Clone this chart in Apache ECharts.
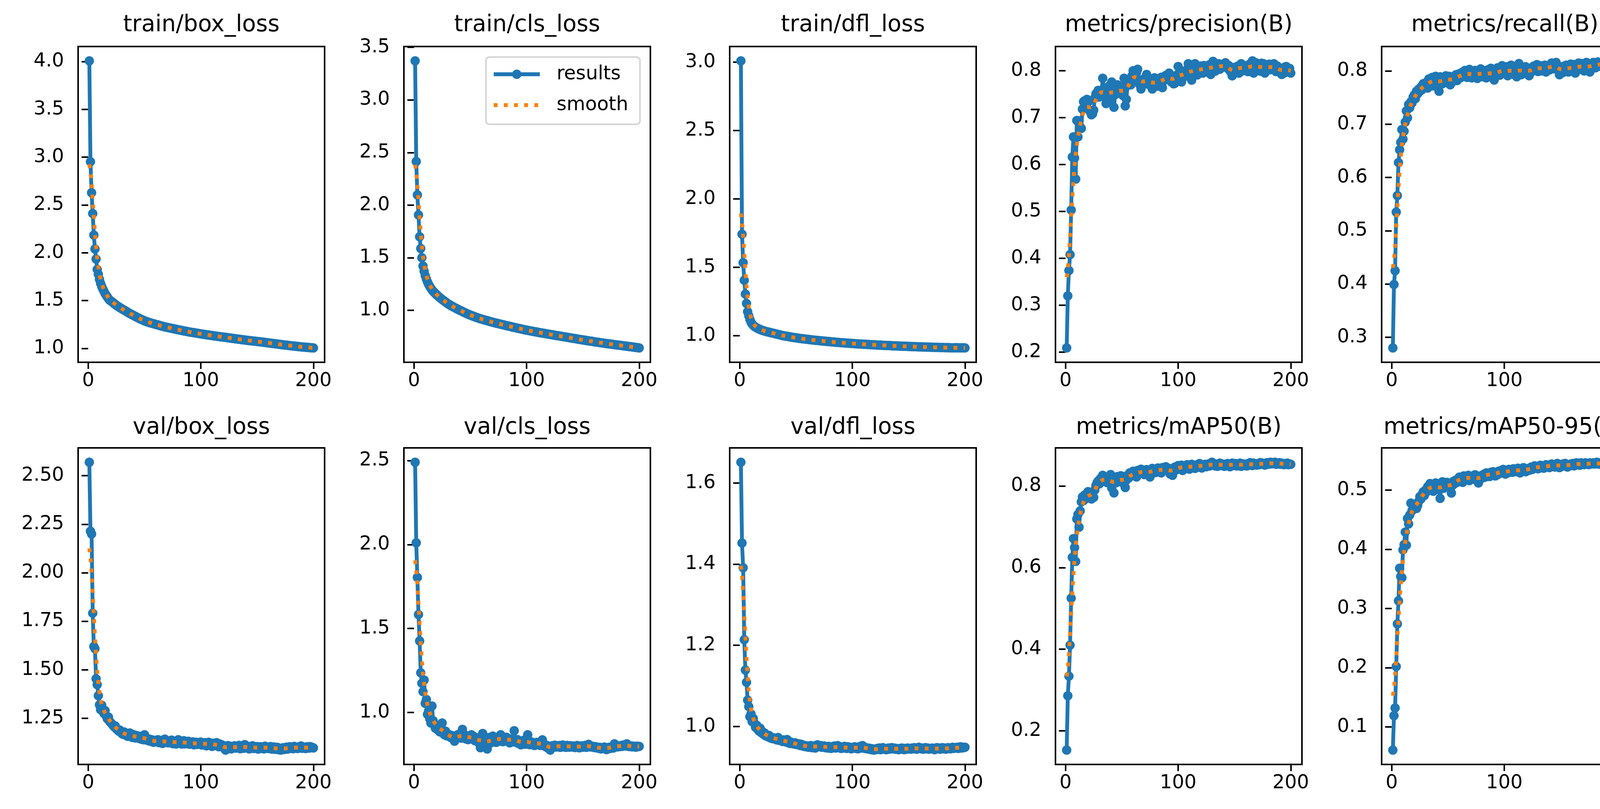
<!DOCTYPE html>
<html>
<head>
<meta charset="utf-8">
<title>results</title>
<script src="https://cdn.jsdelivr.net/npm/echarts@6/dist/echarts.min.js"></script>
<style>
	html, body { margin: 0; padding: 0; background: #fff; }
	#main { width: 4230px; height: 2070px; }
</style>
</head>
<body>
<div id="main"></div>
<script>
// 子图标题
const titles = [
	"train/box_loss", "train/cls_loss", "train/dfl_loss", "metrics/precision(B)", "metrics/recall(B)",
	"val/box_loss", "val/cls_loss", "val/dfl_loss", "metrics/mAP50(B)", "metrics/mAP50-95(B)",
];

// epoch 1..200
const epochs = Array.from({ length: 200 }, (_, i) => i + 1);
const xTicks = [0, 100, 200];

// y 轴刻度
const yTicks = [
	[1.0, 1.5, 2.0, 2.5, 3.0, 3.5, 4.0],
	[1.0, 1.5, 2.0, 2.5, 3.0, 3.5],
	[1.0, 1.5, 2.0, 2.5, 3.0],
	[0.2, 0.3, 0.4, 0.5, 0.6, 0.7, 0.8],
	[0.3, 0.4, 0.5, 0.6, 0.7, 0.8],
	[1.25, 1.5, 1.75, 2.0, 2.25, 2.5],
	[1.0, 1.5, 2.0, 2.5],
	[1.0, 1.2, 1.4, 1.6],
	[0.2, 0.4, 0.6, 0.8],
	[0.1, 0.2, 0.3, 0.4, 0.5],
];
const yDigits = [1, 1, 1, 1, 1, 2, 1, 1, 1, 1];

const trainBox = [
	4.007, 2.952, 2.628, 2.410, 2.185, 2.040, 1.935, 1.826, 1.775, 1.722,
	1.680, 1.648, 1.621, 1.598, 1.573, 1.556, 1.537, 1.520, 1.506, 1.497,
	1.489, 1.479, 1.469, 1.460, 1.451, 1.443, 1.435, 1.428, 1.421, 1.414,
	1.407, 1.400, 1.393, 1.386, 1.379, 1.372, 1.365, 1.359, 1.352, 1.346,
	1.340, 1.334, 1.328, 1.322, 1.316, 1.310, 1.304, 1.299, 1.294, 1.288,
	1.284, 1.280, 1.276, 1.272, 1.268, 1.265, 1.261, 1.258, 1.255, 1.251,
	1.248, 1.245, 1.242, 1.238, 1.235, 1.232, 1.229, 1.226, 1.223, 1.221,
	1.218, 1.215, 1.213, 1.210, 1.208, 1.205, 1.203, 1.200, 1.198, 1.195,
	1.193, 1.190, 1.188, 1.186, 1.183, 1.181, 1.179, 1.177, 1.174, 1.172,
	1.170, 1.168, 1.166, 1.164, 1.162, 1.160, 1.158, 1.156, 1.154, 1.152,
	1.150, 1.148, 1.147, 1.145, 1.143, 1.141, 1.140, 1.138, 1.136, 1.135,
	1.133, 1.131, 1.130, 1.128, 1.126, 1.125, 1.123, 1.121, 1.120, 1.118,
	1.116, 1.115, 1.113, 1.112, 1.110, 1.108, 1.107, 1.105, 1.104, 1.102,
	1.100, 1.099, 1.097, 1.096, 1.094, 1.093, 1.091, 1.090, 1.088, 1.087,
	1.085, 1.084, 1.082, 1.081, 1.080, 1.078, 1.077, 1.076, 1.074, 1.073,
	1.071, 1.070, 1.068, 1.067, 1.065, 1.064, 1.062, 1.061, 1.059, 1.058,
	1.056, 1.055, 1.053, 1.052, 1.050, 1.049, 1.047, 1.046, 1.044, 1.043,
	1.041, 1.040, 1.038, 1.037, 1.035, 1.034, 1.033, 1.031, 1.030, 1.028,
	1.027, 1.025, 1.024, 1.023, 1.021, 1.020, 1.019, 1.017, 1.016, 1.015,
	1.014, 1.013, 1.012, 1.011, 1.010, 1.009, 1.008, 1.007, 1.006, 1.005,
];

const trainCls = [
	3.371, 2.415, 2.097, 1.907, 1.700, 1.588, 1.500, 1.421, 1.372, 1.330,
	1.298, 1.270, 1.247, 1.228, 1.210, 1.195, 1.182, 1.170, 1.160, 1.150,
	1.140, 1.130, 1.121, 1.112, 1.104, 1.096, 1.088, 1.080, 1.072, 1.064,
	1.057, 1.051, 1.045, 1.039, 1.033, 1.027, 1.021, 1.016, 1.010, 1.005,
	1.000, 0.995, 0.990, 0.984, 0.979, 0.974, 0.969, 0.964, 0.960, 0.955,
	0.951, 0.947, 0.943, 0.939, 0.935, 0.931, 0.928, 0.924, 0.920, 0.917,
	0.914, 0.911, 0.908, 0.905, 0.902, 0.899, 0.896, 0.893, 0.890, 0.887,
	0.884, 0.882, 0.879, 0.876, 0.874, 0.871, 0.869, 0.866, 0.864, 0.861,
	0.858, 0.856, 0.853, 0.851, 0.848, 0.846, 0.843, 0.841, 0.838, 0.836,
	0.833, 0.831, 0.829, 0.826, 0.824, 0.821, 0.819, 0.817, 0.814, 0.812,
	0.810, 0.808, 0.806, 0.804, 0.802, 0.800, 0.798, 0.796, 0.794, 0.792,
	0.790, 0.788, 0.786, 0.784, 0.782, 0.781, 0.779, 0.777, 0.775, 0.773,
	0.771, 0.769, 0.768, 0.766, 0.764, 0.762, 0.760, 0.759, 0.757, 0.755,
	0.753, 0.751, 0.750, 0.748, 0.746, 0.744, 0.742, 0.741, 0.739, 0.737,
	0.735, 0.733, 0.732, 0.730, 0.728, 0.726, 0.724, 0.723, 0.721, 0.719,
	0.717, 0.716, 0.714, 0.712, 0.711, 0.709, 0.707, 0.706, 0.704, 0.702,
	0.700, 0.699, 0.697, 0.696, 0.694, 0.692, 0.691, 0.689, 0.688, 0.686,
	0.685, 0.683, 0.682, 0.680, 0.679, 0.678, 0.676, 0.675, 0.673, 0.672,
	0.670, 0.669, 0.668, 0.666, 0.665, 0.663, 0.662, 0.661, 0.659, 0.658,
	0.656, 0.655, 0.654, 0.652, 0.651, 0.649, 0.648, 0.647, 0.645, 0.643,
];

const trainDfl = [
	3.010, 1.742, 1.533, 1.405, 1.304, 1.235, 1.175, 1.145, 1.118, 1.098,
	1.085, 1.075, 1.068, 1.062, 1.057, 1.053, 1.049, 1.045, 1.042, 1.039,
	1.036, 1.034, 1.031, 1.029, 1.027, 1.025, 1.023, 1.021, 1.019, 1.017,
	1.015, 1.013, 1.011, 1.009, 1.007, 1.005, 1.003, 1.001, 0.999, 0.998,
	0.996, 0.995, 0.993, 0.992, 0.990, 0.989, 0.988, 0.986, 0.985, 0.984,
	0.983, 0.981, 0.980, 0.979, 0.978, 0.977, 0.976, 0.975, 0.974, 0.973,
	0.972, 0.971, 0.970, 0.969, 0.968, 0.967, 0.966, 0.966, 0.965, 0.964,
	0.963, 0.962, 0.961, 0.961, 0.960, 0.959, 0.958, 0.957, 0.957, 0.956,
	0.955, 0.954, 0.954, 0.953, 0.952, 0.951, 0.951, 0.950, 0.949, 0.949,
	0.948, 0.947, 0.947, 0.946, 0.945, 0.945, 0.944, 0.944, 0.943, 0.943,
	0.942, 0.941, 0.941, 0.940, 0.940, 0.939, 0.939, 0.938, 0.938, 0.937,
	0.937, 0.936, 0.936, 0.935, 0.935, 0.934, 0.934, 0.933, 0.933, 0.932,
	0.932, 0.931, 0.931, 0.931, 0.930, 0.930, 0.929, 0.929, 0.929, 0.928,
	0.928, 0.927, 0.927, 0.927, 0.926, 0.926, 0.925, 0.925, 0.925, 0.924,
	0.924, 0.924, 0.923, 0.923, 0.923, 0.922, 0.922, 0.922, 0.921, 0.921,
	0.921, 0.920, 0.920, 0.920, 0.919, 0.919, 0.919, 0.918, 0.918, 0.918,
	0.918, 0.917, 0.917, 0.917, 0.916, 0.916, 0.916, 0.916, 0.915, 0.915,
	0.915, 0.915, 0.914, 0.914, 0.914, 0.914, 0.913, 0.913, 0.913, 0.913,
	0.913, 0.912, 0.912, 0.912, 0.912, 0.912, 0.911, 0.911, 0.911, 0.911,
	0.912, 0.911, 0.912, 0.911, 0.911, 0.910, 0.911, 0.910, 0.911, 0.910,
];

const precision = [
	0.209, 0.320, 0.374, 0.408, 0.503, 0.616, 0.659, 0.614, 0.569, 0.694,
	0.659, 0.693, 0.680, 0.677, 0.718, 0.734, 0.736, 0.724, 0.739, 0.733,
	0.716, 0.712, 0.706, 0.708, 0.716, 0.742, 0.751, 0.747, 0.758, 0.744,
	0.751, 0.754, 0.784, 0.762, 0.744, 0.730, 0.759, 0.735, 0.768, 0.748,
	0.776, 0.763, 0.722, 0.749, 0.757, 0.770, 0.759, 0.752, 0.766, 0.757,
	0.747, 0.784, 0.725, 0.739, 0.768, 0.781, 0.774, 0.770, 0.789, 0.800,
	0.791, 0.783, 0.796, 0.803, 0.779, 0.770, 0.761, 0.771, 0.782, 0.776,
	0.772, 0.792, 0.786, 0.777, 0.769, 0.780, 0.761, 0.775, 0.785, 0.771,
	0.767, 0.779, 0.774, 0.781, 0.786, 0.764, 0.778, 0.788, 0.790, 0.782,
	0.787, 0.795, 0.786, 0.776, 0.780, 0.772, 0.773, 0.785, 0.791, 0.809,
	0.790, 0.798, 0.776, 0.785, 0.793, 0.788, 0.801, 0.797, 0.815, 0.790,
	0.803, 0.780, 0.797, 0.808, 0.815, 0.800, 0.791, 0.805, 0.798, 0.810,
	0.802, 0.795, 0.811, 0.806, 0.809, 0.797, 0.805, 0.813, 0.792, 0.812,
	0.820, 0.806, 0.799, 0.812, 0.808, 0.815, 0.803, 0.811, 0.807, 0.814,
	0.809, 0.817, 0.812, 0.805, 0.811, 0.800, 0.796, 0.789, 0.801, 0.807,
	0.799, 0.806, 0.810, 0.795, 0.812, 0.815, 0.804, 0.800, 0.809, 0.805,
	0.811, 0.798, 0.806, 0.815, 0.809, 0.821, 0.795, 0.813, 0.817, 0.806,
	0.803, 0.812, 0.799, 0.816, 0.808, 0.815, 0.795, 0.804, 0.811, 0.807,
	0.814, 0.802, 0.808, 0.805, 0.815, 0.809, 0.798, 0.810, 0.803, 0.806,
	0.799, 0.792, 0.801, 0.795, 0.808, 0.809, 0.800, 0.797, 0.805, 0.795,
];

const recall = [
	0.280, 0.399, 0.425, 0.535, 0.566, 0.628, 0.652, 0.666, 0.690, 0.672,
	0.687, 0.704, 0.725, 0.712, 0.737, 0.731, 0.742, 0.740, 0.751, 0.755,
	0.748, 0.762, 0.757, 0.766, 0.762, 0.770, 0.765, 0.776, 0.769, 0.774,
	0.779, 0.768, 0.785, 0.776, 0.781, 0.788, 0.772, 0.786, 0.790, 0.778,
	0.784, 0.762, 0.789, 0.781, 0.776, 0.787, 0.783, 0.791, 0.778, 0.785,
	0.790, 0.774, 0.783, 0.789, 0.781, 0.786, 0.793, 0.782, 0.788, 0.795,
	0.787, 0.792, 0.798, 0.790, 0.801, 0.794, 0.788, 0.797, 0.803, 0.792,
	0.787, 0.796, 0.789, 0.801, 0.794, 0.786, 0.798, 0.791, 0.804, 0.795,
	0.789, 0.799, 0.793, 0.787, 0.802, 0.796, 0.791, 0.805, 0.794, 0.797,
	0.783, 0.799, 0.793, 0.806, 0.798, 0.792, 0.801, 0.810, 0.796, 0.803,
	0.795, 0.808, 0.791, 0.802, 0.798, 0.811, 0.794, 0.800, 0.806, 0.797,
	0.789, 0.804, 0.814, 0.799, 0.793, 0.805, 0.800, 0.796, 0.808, 0.802,
	0.797, 0.791, 0.803, 0.798, 0.805, 0.809, 0.801, 0.806, 0.812, 0.799,
	0.805, 0.810, 0.800, 0.807, 0.803, 0.811, 0.798, 0.806, 0.809, 0.802,
	0.807, 0.815, 0.810, 0.804, 0.808, 0.816, 0.811, 0.803, 0.793, 0.800,
	0.806, 0.797, 0.809, 0.802, 0.811, 0.804, 0.798, 0.807, 0.813, 0.801,
	0.808, 0.812, 0.796, 0.805, 0.811, 0.815, 0.803, 0.809, 0.814, 0.806,
	0.800, 0.812, 0.816, 0.805, 0.810, 0.798, 0.813, 0.808, 0.816, 0.810,
	0.806, 0.813, 0.817, 0.809, 0.812, 0.815, 0.807, 0.819, 0.811, 0.814,
	0.809, 0.816, 0.812, 0.818, 0.813, 0.810, 0.816, 0.808, 0.814, 0.809,
];

const valBox = [
	2.569, 2.214, 2.200, 1.792, 1.620, 1.609, 1.454, 1.424, 1.367, 1.320,
	1.295, 1.318, 1.287, 1.276, 1.290, 1.262, 1.248, 1.257, 1.235, 1.228,
	1.222, 1.214, 1.207, 1.211, 1.196, 1.193, 1.185, 1.190, 1.178, 1.172,
	1.168, 1.180, 1.165, 1.171, 1.158, 1.163, 1.175, 1.160, 1.152, 1.167,
	1.158, 1.149, 1.162, 1.154, 1.147, 1.158, 1.143, 1.151, 1.140, 1.166,
	1.150, 1.138, 1.145, 1.134, 1.142, 1.131, 1.139, 1.127, 1.133, 1.137,
	1.129, 1.140, 1.125, 1.132, 1.136, 1.121, 1.130, 1.143, 1.128, 1.134,
	1.124, 1.131, 1.127, 1.138, 1.120, 1.129, 1.133, 1.118, 1.126, 1.140,
	1.122, 1.130, 1.118, 1.125, 1.135, 1.119, 1.127, 1.123, 1.132, 1.117,
	1.125, 1.120, 1.129, 1.114, 1.122, 1.127, 1.116, 1.123, 1.119, 1.128,
	1.113, 1.121, 1.117, 1.125, 1.109, 1.120, 1.127, 1.115, 1.118, 1.106,
	1.122, 1.116, 1.110, 1.125, 1.112, 1.104, 1.118, 1.108, 1.113, 1.101,
	1.095, 1.087, 1.103, 1.110, 1.098, 1.107, 1.093, 1.105, 1.100, 1.109,
	1.097, 1.104, 1.099, 1.111, 1.094, 1.102, 1.107, 1.096, 1.115, 1.101,
	1.098, 1.106, 1.093, 1.103, 1.099, 1.109, 1.095, 1.101, 1.097, 1.105,
	1.092, 1.100, 1.104, 1.096, 1.101, 1.093, 1.107, 1.098, 1.102, 1.095,
	1.099, 1.105, 1.092, 1.098, 1.103, 1.091, 1.096, 1.101, 1.089, 1.094,
	1.087, 1.093, 1.099, 1.090, 1.095, 1.102, 1.092, 1.098, 1.104, 1.096,
	1.100, 1.094, 1.106, 1.097, 1.101, 1.095, 1.103, 1.099, 1.108, 1.096,
	1.102, 1.098, 1.095, 1.104, 1.100, 1.097, 1.105, 1.099, 1.101, 1.098,
];

const valCls = [
	2.490, 2.010, 1.804, 1.583, 1.426, 1.236, 1.174, 1.124, 1.193, 1.054,
	1.077, 0.988, 1.010, 0.962, 0.937, 1.038, 0.951, 0.925, 0.906, 0.918,
	0.897, 0.905, 0.884, 0.910, 0.937, 0.876, 0.867, 0.889, 0.861, 0.872,
	0.858, 0.866, 0.849, 0.862, 0.841, 0.829, 0.853, 0.845, 0.868, 0.851,
	0.862, 0.847, 0.899, 0.872, 0.854, 0.843, 0.861, 0.838, 0.856, 0.849,
	0.867, 0.841, 0.858, 0.832, 0.851, 0.846, 0.822, 0.839, 0.790, 0.845,
	0.875, 0.836, 0.812, 0.828, 0.782, 0.829, 0.851, 0.818, 0.844, 0.859,
	0.831, 0.847, 0.822, 0.838, 0.852, 0.829, 0.867, 0.841, 0.826, 0.849,
	0.836, 0.852, 0.829, 0.845, 0.819, 0.838, 0.824, 0.842, 0.891, 0.833,
	0.821, 0.838, 0.815, 0.829, 0.807, 0.824, 0.818, 0.836, 0.811, 0.813,
	0.867, 0.820, 0.808, 0.825, 0.812, 0.819, 0.803, 0.816, 0.822, 0.809,
	0.815, 0.804, 0.826, 0.837, 0.811, 0.799, 0.806, 0.792, 0.801, 0.783,
	0.776, 0.791, 0.802, 0.797, 0.805, 0.794, 0.800, 0.796, 0.803, 0.792,
	0.799, 0.806, 0.795, 0.801, 0.792, 0.804, 0.798, 0.793, 0.802, 0.797,
	0.794, 0.800, 0.791, 0.798, 0.803, 0.795, 0.789, 0.798, 0.801, 0.793,
	0.797, 0.804, 0.792, 0.799, 0.810, 0.795, 0.801, 0.794, 0.798, 0.791,
	0.796, 0.789, 0.793, 0.786, 0.792, 0.783, 0.790, 0.785, 0.794, 0.788,
	0.779, 0.787, 0.792, 0.785, 0.791, 0.796, 0.788, 0.813, 0.794, 0.799,
	0.795, 0.801, 0.797, 0.803, 0.798, 0.806, 0.800, 0.804, 0.813, 0.798,
	0.802, 0.796, 0.800, 0.795, 0.799, 0.797, 0.793, 0.799, 0.796, 0.798,
];

const valDfl = [
	1.651, 1.452, 1.391, 1.214, 1.139, 1.109, 1.065, 1.049, 1.024, 1.031,
	1.012, 1.020, 1.008, 0.998, 1.003, 0.993, 0.989, 0.996, 0.985, 0.988,
	0.981, 0.984, 0.977, 0.979, 0.975, 0.978, 0.972, 0.974, 0.970, 0.972,
	0.969, 0.971, 0.967, 0.973, 0.966, 0.968, 0.965, 0.963, 0.967, 0.964,
	0.962, 0.968, 0.960, 0.963, 0.958, 0.961, 0.959, 0.957, 0.960, 0.956,
	0.958, 0.955, 0.957, 0.953, 0.956, 0.954, 0.951, 0.953, 0.950, 0.952,
	0.949, 0.951, 0.953, 0.948, 0.950, 0.952, 0.947, 0.951, 0.955, 0.952,
	0.950, 0.953, 0.949, 0.951, 0.952, 0.948, 0.950, 0.947, 0.951, 0.949,
	0.946, 0.950, 0.948, 0.952, 0.947, 0.949, 0.953, 0.948, 0.950, 0.946,
	0.949, 0.947, 0.951, 0.948, 0.946, 0.950, 0.947, 0.949, 0.945, 0.948,
	0.947, 0.950, 0.946, 0.949, 0.945, 0.948, 0.951, 0.947, 0.953, 0.949,
	0.946, 0.948, 0.945, 0.947, 0.944, 0.946, 0.943, 0.945, 0.942, 0.944,
	0.943, 0.946, 0.944, 0.947, 0.943, 0.945, 0.948, 0.944, 0.946, 0.943,
	0.945, 0.947, 0.944, 0.946, 0.948, 0.945, 0.947, 0.944, 0.946, 0.945,
	0.943, 0.946, 0.944, 0.947, 0.945, 0.943, 0.946, 0.944, 0.947, 0.945,
	0.946, 0.944, 0.947, 0.945, 0.948, 0.946, 0.944, 0.947, 0.949, 0.946,
	0.945, 0.947, 0.944, 0.946, 0.948, 0.945, 0.947, 0.944, 0.946, 0.945,
	0.947, 0.945, 0.943, 0.946, 0.948, 0.945, 0.947, 0.944, 0.946, 0.948,
	0.945, 0.947, 0.944, 0.946, 0.948, 0.946, 0.945, 0.947, 0.949, 0.946,
	0.948, 0.947, 0.949, 0.946, 0.948, 0.950, 0.947, 0.949, 0.948, 0.949,
];

const mAP50 = [
	0.153, 0.286, 0.334, 0.410, 0.525, 0.625, 0.671, 0.649, 0.615, 0.719,
	0.730, 0.699, 0.739, 0.761, 0.773, 0.764, 0.778, 0.769, 0.782, 0.786,
	0.771, 0.779, 0.768, 0.775, 0.772, 0.790, 0.801, 0.808, 0.812, 0.805,
	0.818, 0.814, 0.826, 0.811, 0.820, 0.815, 0.808, 0.822, 0.817, 0.828,
	0.795, 0.812, 0.783, 0.819, 0.808, 0.823, 0.816, 0.811, 0.825, 0.818,
	0.807, 0.821, 0.796, 0.814, 0.826, 0.819, 0.832, 0.824, 0.829, 0.836,
	0.827, 0.833, 0.822, 0.838, 0.829, 0.835, 0.841, 0.832, 0.837, 0.828,
	0.834, 0.840, 0.831, 0.836, 0.822, 0.838, 0.843, 0.835, 0.840, 0.833,
	0.839, 0.844, 0.836, 0.841, 0.832, 0.845, 0.838, 0.842, 0.847, 0.840,
	0.836, 0.843, 0.829, 0.839, 0.826, 0.841, 0.846, 0.839, 0.844, 0.850,
	0.842, 0.847, 0.851, 0.838, 0.845, 0.849, 0.843, 0.852, 0.846, 0.841,
	0.848, 0.853, 0.845, 0.850, 0.843, 0.847, 0.852, 0.846, 0.855, 0.849,
	0.844, 0.851, 0.848, 0.853, 0.847, 0.850, 0.854, 0.849, 0.852, 0.858,
	0.851, 0.855, 0.849, 0.853, 0.848, 0.852, 0.856, 0.850, 0.854, 0.851,
	0.848, 0.853, 0.850, 0.855, 0.851, 0.847, 0.853, 0.856, 0.850, 0.852,
	0.855, 0.849, 0.853, 0.851, 0.856, 0.848, 0.852, 0.854, 0.850, 0.853,
	0.849, 0.855, 0.851, 0.857, 0.853, 0.850, 0.856, 0.852, 0.854, 0.851,
	0.855, 0.852, 0.857, 0.853, 0.856, 0.854, 0.851, 0.855, 0.857, 0.853,
	0.856, 0.858, 0.854, 0.857, 0.855, 0.858, 0.853, 0.856, 0.854, 0.857,
	0.853, 0.856, 0.854, 0.852, 0.855, 0.853, 0.856, 0.852, 0.854, 0.853,
];

const mAP5095 = [
	0.061, 0.119, 0.132, 0.202, 0.274, 0.313, 0.368, 0.354, 0.352, 0.399,
	0.408, 0.429, 0.407, 0.452, 0.443, 0.458, 0.478, 0.465, 0.472, 0.476,
	0.470, 0.469, 0.474, 0.481, 0.489, 0.485, 0.493, 0.497, 0.491, 0.500,
	0.497, 0.506, 0.501, 0.511, 0.504, 0.509, 0.498, 0.507, 0.512, 0.505,
	0.509, 0.501, 0.486, 0.508, 0.514, 0.503, 0.511, 0.507, 0.513, 0.509,
	0.505, 0.512, 0.495, 0.508, 0.515, 0.511, 0.517, 0.513, 0.519, 0.522,
	0.516, 0.521, 0.513, 0.524, 0.518, 0.523, 0.519, 0.525, 0.516, 0.522,
	0.518, 0.524, 0.520, 0.526, 0.521, 0.517, 0.512, 0.523, 0.519, 0.525,
	0.521, 0.527, 0.522, 0.529, 0.524, 0.528, 0.523, 0.530, 0.526, 0.531,
	0.527, 0.524, 0.530, 0.526, 0.532, 0.528, 0.533, 0.529, 0.535, 0.531,
	0.527, 0.533, 0.529, 0.535, 0.531, 0.534, 0.530, 0.536, 0.532, 0.535,
	0.531, 0.537, 0.533, 0.529, 0.535, 0.532, 0.538, 0.534, 0.531, 0.536,
	0.533, 0.537, 0.534, 0.539, 0.535, 0.538, 0.541, 0.537, 0.540, 0.536,
	0.539, 0.542, 0.538, 0.541, 0.537, 0.540, 0.543, 0.539, 0.542, 0.538,
	0.541, 0.544, 0.540, 0.543, 0.539, 0.542, 0.545, 0.541, 0.538, 0.543,
	0.540, 0.544, 0.541, 0.545, 0.542, 0.539, 0.543, 0.541, 0.544, 0.542,
	0.545, 0.541, 0.544, 0.546, 0.543, 0.545, 0.542, 0.546, 0.544, 0.545,
	0.543, 0.546, 0.544, 0.545, 0.543, 0.546, 0.544, 0.545, 0.546, 0.544,
	0.545, 0.547, 0.544, 0.546, 0.545, 0.543, 0.546, 0.544, 0.545, 0.543,
	0.544, 0.542, 0.545, 0.543, 0.544, 0.542, 0.545, 0.543, 0.544, 0.543,
];

const panelData = [trainBox, trainCls, trainDfl, precision, recall, valBox, valCls, valDfl, mAP50, mAP5095];

// 高斯平滑 sigma=3, reflect 边界
const gaussSmooth = (y, sigma = 3) => {
	const r = Math.round(4 * sigma);
	const w = [];
	for (let k = -r; k <= r; k++) w.push(Math.exp(-0.5 * (k / sigma) ** 2));
	const s = w.reduce((a, b) => a + b, 0);
	const n = y.length;
	return y.map((_, i) => {
		let acc = 0;
		for (let k = -r; k <= r; k++) {
			let j = i + k;
			while (j < 0 || j >= n) j = j < 0 ? -j - 1 : 2 * n - j - 1;
			acc += w[k + r] * y[j];
		}
		return acc / s;
	});
};

const FONT = "DejaVu Sans";
const BLUE = "#1f77b4";
const ORANGE = "#ff7f0e";
const LW = 9.8;

// 布局
const colLeft = [200, 1034, 1868, 2702, 3537];
const rowTop = [119, 1146];
const rowHeight = [808, 810];
const gridWidth = 631;
const titleTop = [36, 1066];

const grids = [], xAxes = [], yAxes = [], series = [], titleList = [];

panelData.forEach((data, i) => {
	const c = i % 5, r = Math.floor(i / 5);
	const lo = Math.min(...data), hi = Math.max(...data);
	const pad = (hi - lo) * 0.05;

	grids.push({
		left: colLeft[c], top: rowTop[r], width: gridWidth, height: rowHeight[r],
		show: true, borderColor: "#000", borderWidth: 4, backgroundColor: "transparent",
	});

	titleList.push({
		text: titles[i],
		left: colLeft[c] + gridWidth / 2,
		top: titleTop[r],
		textAlign: "center",
		padding: 0,
		textStyle: { fontSize: 58, fontWeight: "normal", fontFamily: FONT, color: "#000" },
	});

	xAxes.push({
		type: "value", gridIndex: i, min: -8.95, max: 209.95,
		axisLine: { show: false },
		splitLine: { show: false },
		axisTick: { show: true, length: 17, customValues: xTicks, lineStyle: { color: "#000", width: 4 } },
		axisLabel: {
			customValues: xTicks, margin: 24, fontSize: 49, fontFamily: FONT, color: "#000",
			formatter: (v) => String(v),
		},
	});

	yAxes.push({
		type: "value", gridIndex: i, min: lo - pad, max: hi + pad,
		axisLine: { show: false },
		splitLine: { show: false },
		axisTick: { show: true, length: 17, customValues: yTicks[i], lineStyle: { color: "#000", width: 4 } },
		axisLabel: {
			customValues: yTicks[i], margin: 36, fontSize: 49, fontFamily: FONT, color: "#000",
			formatter: (v) => v.toFixed(yDigits[i]),
		},
	});

	series.push({
		name: "results", type: "line", xAxisIndex: i, yAxisIndex: i,
		data: data.map((v, k) => [epochs[k], v]),
		symbol: "circle", symbolSize: 24, showSymbol: true,
		itemStyle: { color: BLUE },
		lineStyle: { color: BLUE, width: LW },
		z: 2,
	});

	series.push({
		name: "smooth", type: "line", xAxisIndex: i, yAxisIndex: i,
		data: gaussSmooth(data).map((v, k) => [epochs[k], v]),
		symbol: "none", showSymbol: false,
		itemStyle: { color: ORANGE },
		lineStyle: { color: ORANGE, width: LW, type: [9.8, 16.2], cap: "butt" },
		z: 3,
	});
});

const myChart = echarts.init(document.querySelector("#main"), null, { width: 4230, height: 2070, renderer: "canvas" });

myChart.setOption({
	backgroundColor: "#fff",
	animation: false,
	textStyle: { fontFamily: FONT },
	title: titleList,
	grid: grids,
	xAxis: xAxes,
	yAxis: yAxes,
	// 图例
	legend: {
		data: [{ name: "results" }, { name: "smooth", itemStyle: { opacity: 0 } }],
		orient: "vertical",
		left: 1244, top: 146,
		itemWidth: 118, itemHeight: 30, itemGap: 23,
		padding: [16, 30, 21, 15],
		backgroundColor: "#fff",
		borderColor: "#d4d4d4", borderWidth: 4, borderRadius: 9,
		lineStyle: { width: LW },
		textStyle: { fontSize: 49, lineHeight: 56, fontFamily: FONT, color: "#000", padding: [0, 0, 0, 38] },
	},
	series: series,
});
</script>
</body>
</html>
